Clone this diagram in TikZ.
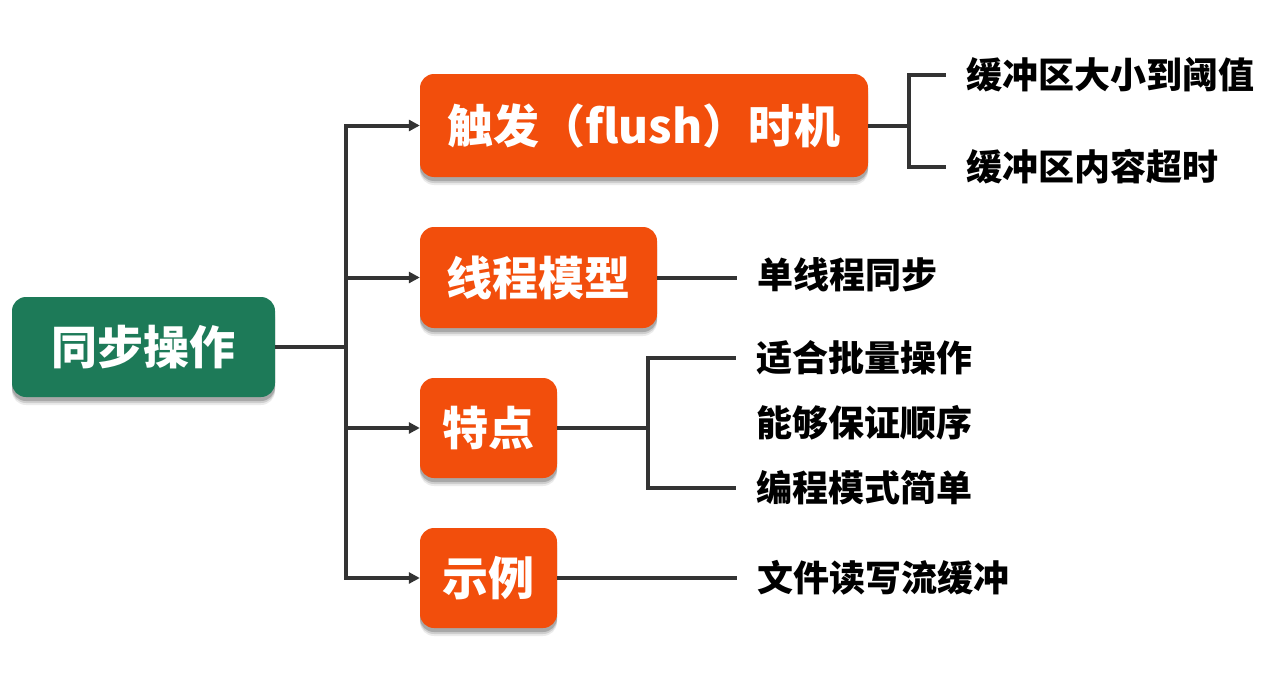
\documentclass[tikz,border=0pt]{standalone}
\usepackage{fontspec}
\setmainfont{Noto Sans CJK SC}
\usetikzlibrary{arrows.meta,shadows}
\definecolor{boxorange}{HTML}{F24E0C}
\definecolor{boxgreen}{HTML}{1D7A58}
\definecolor{linegray}{HTML}{333333}
\tikzset{
  boxbase/.style={rounded corners=14pt, text=white, inner sep=0pt,
    font=\fontsize{46}{50}\selectfont\bfseries, text height=40.5pt, text depth=5.5pt,
    minimum height=101pt, align=center,
    drop shadow={shadow xshift=0pt, shadow yshift=-8pt, opacity=0.08, fill=black},
    drop shadow={shadow xshift=0pt, shadow yshift=-6pt, opacity=0.12, fill=black},
    drop shadow={shadow xshift=0pt, shadow yshift=-4pt, opacity=0.18, fill=black}},
  obox/.style={boxbase, fill=boxorange},
  gbox/.style={boxbase, fill=boxgreen},
  leaf/.style={anchor=west, inner xsep=20pt, inner ysep=0pt,
    font=\fontsize{36}{40}\selectfont\bfseries, text=black, text height=31.7pt, text depth=4.3pt},
  conn/.style={draw=linegray, line width=4pt},
  arr/.style={conn, -{Triangle[length=11pt,width=11pt]}}
}
\begin{document}
\begin{tikzpicture}[x=1pt,y=-1pt]
\useasboundingbox[fill=white] (0,0) rectangle (1273,677);

\node[gbox, minimum width=263pt, minimum height=100pt] (root) at (143.5,347) {同步操作};
\node[obox, minimum width=448pt, minimum height=103pt] (b1) at (644,125.5) {触发（flush）时机};
\node[obox, minimum width=237pt] (b2) at (538.5,277.5) {线程模型};
\node[obox, minimum width=137pt, minimum height=100pt] (b3) at (488.5,428) {特点};
\node[obox, minimum width=137pt, minimum height=100pt] (b4) at (488.5,578) {示例};

% trunk
\coordinate (j) at (346,347);
\draw[conn] (root.east) -- (j);
\draw[arr] (j) |- (b1.west);
\draw[arr] (j) |- (b2.west);
\draw[arr] (j) |- (b3.west);
\draw[arr] (j) |- (b4.west);

% leaves of b1
\coordinate (j1) at (909,125.5);
\node[leaf] (l1a) at (946,75) {缓冲区大小到阈值};
\node[leaf] (l1b) at (946,167) {缓冲区内容超时};
\draw[conn] (b1.east) -- (j1);
\draw[conn] (j1) |- (l1a.west);
\draw[conn] (j1) |- (l1b.west);

% leaf of b2
\node[leaf] (l2) at (737,275) {单线程同步};
\draw[conn] (b2.east) -- (b2.east -| l2.west);

% leaves of b3
\coordinate (j3) at (648,428);
\node[leaf] (l3a) at (736,358) {适合批量操作};
\node[leaf] (l3b) at (736,423) {能够保证顺序};
\node[leaf] (l3c) at (736,488) {编程模式简单};
\draw[conn] (b3.east) -- (j3);
\draw[conn] (j3) |- (l3a.west);
\draw[conn] (j3) |- (l3c.west);

% leaf of b4
\node[leaf] (l4) at (737,578) {文件读写流缓冲};
\draw[conn] (b4.east) -- (l4.west);
\end{tikzpicture}
\end{document}
